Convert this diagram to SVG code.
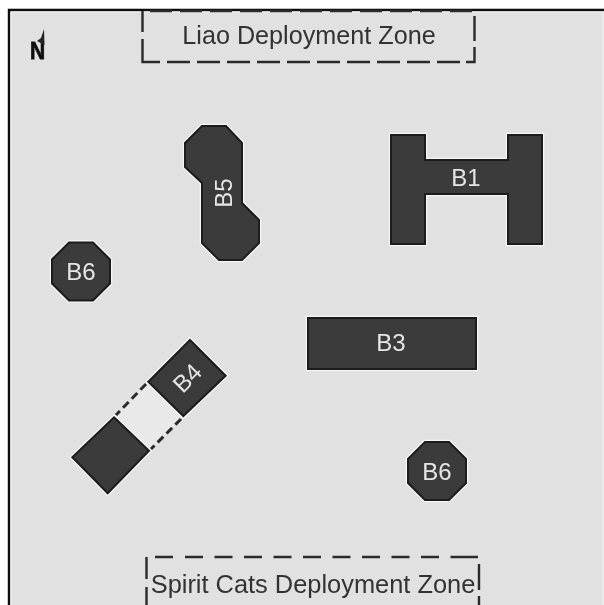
<svg xmlns="http://www.w3.org/2000/svg" width="604" height="605" viewBox="0 0 604 605">
<defs>
<style>
.halo{fill:none;stroke:#f6f6f6;stroke-width:4.500;stroke-linejoin:miter}
.body{fill:#3a3a3a;stroke:#1c1c1c;stroke-width:2;stroke-linejoin:miter}
.lbl{font-family:"Liberation Sans",Arial,sans-serif;font-size:24px;fill:#e6e6e6;text-anchor:middle}
.zone{font-family:"Liberation Sans",Arial,sans-serif;font-size:25.200px;fill:#333;text-anchor:middle}
.dash{fill:none;stroke:#2c2c2c;stroke-width:2.400}
</style>
<filter id="soft" x="0" y="0" width="100%" height="100%" filterUnits="userSpaceOnUse"><feGaussianBlur stdDeviation="0.55"/></filter>
<polygon id="oct" points="-12,-29 12,-29 29,-12 29,12 12,29 -12,29 -29,12 -29,-12"/>
</defs>
<rect width="604" height="605" fill="#fff"/>
<g filter="url(#soft)">
<g id="map">
<rect x="9" y="10" width="595" height="595" fill="#e1e1e1"/>
<path d="M9 605V10H604" fill="none" stroke="#111" stroke-width="2.400"/>
<path d="M11 605V12H604" fill="none" stroke="#f2f2f2" stroke-width="1"/>
<path d="M603 12V605" fill="none" stroke="#f4f4f4" stroke-width="1"/>
</g>
<g id="north">
<text transform="translate(37.500 59) scale(1 1.100)" font-family="'Liberation Sans',Arial,sans-serif" font-weight="700" font-size="21" fill="#111" stroke="#111" stroke-width="0.700" text-anchor="middle">N</text>
<polygon points="44,29 44.500,45 37,41 41,38" fill="#222"/>
</g>
<g id="zone-liao">
<path class="dash" d="M142.500 11V32M142.500 39V62H160M167 62H190M197 62H220M227 62H250M257 62H280M287 62H310M317 62H340M347 62H370M377 62H400M407 62H430M437 62H460M466 62H474.500V47M474.500 41V16"/>
<path class="dash" d="M150 11H172M180 11H202M210 11H232M240 11H262M270 11H292M300 11H322M330 11H352M360 11H382M390 11H412M420 11H442M450 11H472"/>
<text class="zone" x="309" y="44">Liao Deployment Zone</text>
</g>
<g id="zone-spirit">
<path class="dash" d="M146.500 605V587M146.500 579V557M155 557H173M185 557H203M214.500 557H232.500M244 557H262M273.500 557H291.500M303 557H321M332.500 557H350.500M362 557H380M391.500 557H409.500M421 557H439M450.500 557H478M479 564V590M479 596V605"/>
<text class="zone" x="313" y="593" style="font-size:25.400px">Spirit Cats Deployment Zone</text>
</g>
<g id="B1">
<path class="halo" d="M391 135H425V160H508V135H542V244H508V194H425V244H391Z"/>
<path class="body" d="M391 135H425V160H508V135H542V244H508V194H425V244H391Z"/>
<text class="lbl" x="466" y="186">B1</text>
</g>
<g id="B5">
<polygon class="halo" points="202,126 226,126 242,143 242,203 259,220 259,243 242,260 219,260 202,243 202,183 185,167 185,143"/>
<polygon class="body" points="202,126 226,126 242,143 242,203 259,220 259,243 242,260 219,260 202,243 202,183 185,167 185,143"/>
<text class="lbl" transform="translate(232 193) rotate(-90)">B5</text>
</g>
<g id="B6-west">
<use href="#oct" class="halo" x="81" y="271.500"/>
<use href="#oct" class="body" x="81" y="271.500"/>
<text class="lbl" x="81" y="280">B6</text>
</g>
<g id="B6-east">
<use href="#oct" class="halo" x="437" y="471"/>
<use href="#oct" class="body" x="437" y="471"/>
<text class="lbl" x="437" y="480">B6</text>
</g>
<g id="B3">
<rect class="halo" x="308" y="318" width="168" height="51"/>
<rect class="body" x="308" y="318" width="168" height="51"/>
<text class="lbl" x="391" y="351">B3</text>
</g>
<g id="B4">
<polygon points="148.300,381.700 183.300,416 149,450.700 114,417.300" fill="#e9e9e9"/>
<path class="dash" stroke-width="3" stroke-dasharray="8 4.500" d="M146 384L116 415M181 419L151 449" style="stroke-width:3"/>
<polygon class="halo" points="190,340 225.700,375.700 183.300,416 148.300,381.700"/>
<polygon class="body" points="190,340 225.700,375.700 183.300,416 148.300,381.700"/>
<polygon class="halo" points="114,417.300 149,450.700 107.700,493.300 72.300,457.300"/>
<polygon class="body" points="114,417.300 149,450.700 107.700,493.300 72.300,457.300"/>
<text class="lbl" transform="translate(193 384) rotate(-45)">B4</text>
</g>
</g>
</svg>
